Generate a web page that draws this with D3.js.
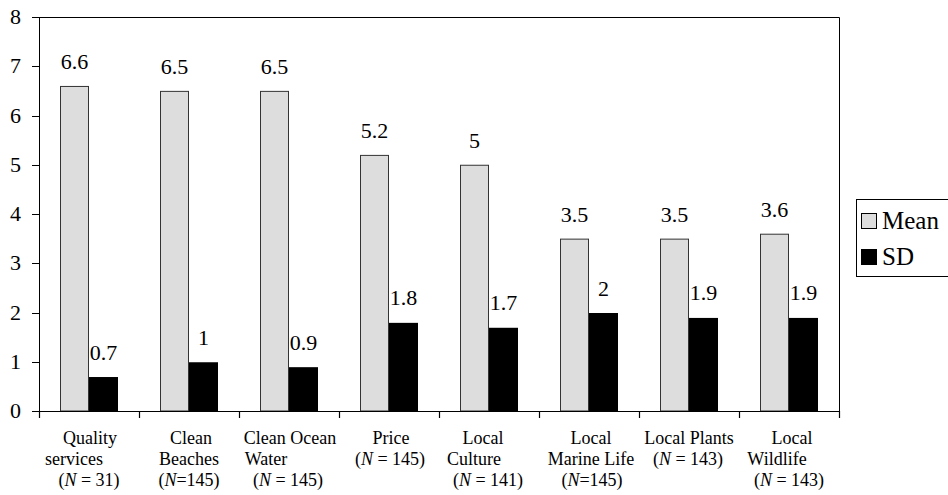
<!DOCTYPE html>
<html><head><meta charset="utf-8">
<script src="https://cdn.jsdelivr.net/npm/d3@7"></script>
<style>
text { font-family: "Liberation Serif", serif !important; }
</style>
</head>
<body style="margin:0"><svg id="c" width="948" height="495" style="font-family:'Liberation Serif',serif"></svg>
<script>
// ---- data ----
const categories = ["Quality services", "Clean Beaches", "Clean Ocean Water", "Price", "Local Culture", "Local Marine Life", "Local Plants", "Local Wildlife"];
const categoryLines = [
  ["Quality", "services", "(N = 31)"],
  ["Clean", "Beaches", "(N=145)"],
  ["Clean Ocean", "Water", "(N = 145)"],
  ["Price", "(N = 145)"],
  ["Local", "Culture", "(N = 141)"],
  ["Local", "Marine Life", "(N=145)"],
  ["Local Plants", "(N = 143)"],
  ["Local", "Wildlife", "(N = 143)"]
];
const seriesNames = ["Mean", "SD"];
const meanValues = [6.6, 6.5, 6.5, 5.2, 5, 3.5, 3.5, 3.6];
const sdValues = [0.7, 1, 0.9, 1.8, 1.7, 2, 1.9, 1.9];
const yTicks = [0, 1, 2, 3, 4, 5, 6, 7, 8];

// ---- layout (styling only) ----
const lineShift = [[1,-15,0],[2,0,0],[1,-23,-1],[2,1],[-6,-15,-1],[2,2,3],[0,-1],[3,-12,0]];
const colors = {Mean: "#dddddd", SD: "#000000"};
const FONT = "'Liberation Serif', serif";
const L = 39, R = 839, T = 17, B = 411;

const svg = d3.select("#c");
const x0 = d3.scaleBand().domain(categories).range([L, R]).paddingInner(0.42).paddingOuter(0.21);
const x1 = d3.scaleBand().domain(seriesNames).range([0, x0.bandwidth()]).padding(0);
const y = d3.scaleLinear().domain([0, 8]).range([B, T]);

const rows = categories.map((c, i) => ({cat: c, Mean: meanValues[i], SD: sdValues[i]}));

function txt(sel) {
  return sel.append("text").attr("font-family", FONT).style("font-family", FONT).attr("fill", "#000");
}

// bars
rows.forEach(r => {
  seriesNames.forEach(s => {
    svg.append("rect")
      .attr("x", x0(r.cat) + x1(s) + (s === "Mean" ? 0.5 : 0))
      .attr("y", y(r[s]) + 0.5)
      .attr("width", x1.bandwidth() - (s === "Mean" ? 1 : 0))
      .attr("height", y(0) - y(r[s]) - 0.5)
      .attr("fill", colors[s])
      .attr("stroke", s === "Mean" ? "#333" : "none")
      .attr("stroke-width", 1);
  });
});
rows.forEach(r => {
  seriesNames.forEach(s => {
    txt(svg)
      .attr("x", x0(r.cat) + x1(s) + x1.bandwidth() / 2)
      .attr("y", y(r[s]) - 17)
      .attr("text-anchor", "middle")
      .attr("font-size", 22)
      .text(String(r[s]));
  });
});

// plot frame (top and right)
svg.append("path").attr("d", `M${L},${T+0.5}H${R+0.5}V${B}`).attr("fill", "none").attr("stroke", "#000").attr("stroke-width", 1);

// y axis
yTicks.forEach(t => {
  svg.append("line").attr("x1", L - 7).attr("x2", L + 0.5).attr("y1", Math.round(y(t)) + 0.5).attr("y2", Math.round(y(t)) + 0.5)
    .attr("stroke", "#000").attr("stroke-width", 1);
  txt(svg).attr("x", L - 18).attr("y", y(t) + 7).attr("text-anchor", "end")
    .attr("font-size", 22).text(String(t));
});
svg.append("line").attr("x1", L + 0.5).attr("x2", L + 0.5).attr("y1", T).attr("y2", B + 1).attr("stroke", "#000");

// x axis line with ticks at category boundaries
svg.append("line").attr("x1", L).attr("x2", R + 1).attr("y1", B + 0.5).attr("y2", B + 0.5).attr("stroke", "#000");
const bounds = categories.map(c => x0(c) - x0.step() * x0.paddingInner() / 2).concat([R]);
bounds.forEach(bx => {
  svg.append("line").attr("x1", Math.round(bx) + 0.5).attr("x2", Math.round(bx) + 0.5).attr("y1", B).attr("y2", B + 7)
    .attr("stroke", "#000").attr("stroke-width", 1.2);
});

// category labels
const baseY = [444, 465, 486];
categoryLines.forEach((lines, i) => {
  const cx = x0(categories[i]) + x0.bandwidth() / 2;
  lines.forEach((ln, j) => {
    const t = txt(svg)
      .attr("x", cx + lineShift[i][j])
      .attr("y", baseY[j])
      .attr("text-anchor", "middle")
      .attr("font-size", 18);
    if (ln.startsWith("(N")) {
      t.append("tspan").text("(");
      t.append("tspan").attr("font-style", "italic").text("N");
      t.append("tspan").text(ln.slice(2));
    } else {
      t.text(ln);
    }
  });
});

// legend
svg.append("rect").attr("x", 856.5).attr("y", 199.5).attr("width", 100).attr("height", 77)
  .attr("fill", "#fff").attr("stroke", "#000").attr("stroke-width", 1);
seriesNames.forEach((s, i) => {
  svg.append("rect").attr("x", 861.5).attr("y", 213.5 + i * 36).attr("width", 15).attr("height", 15)
    .attr("fill", colors[s]).attr("stroke", "#000").attr("stroke-width", 1);
  txt(svg).attr("x", 882).attr("y", 229 + i * 36)
    .attr("font-size", 25).text(s);
});
</script>
</body></html>
